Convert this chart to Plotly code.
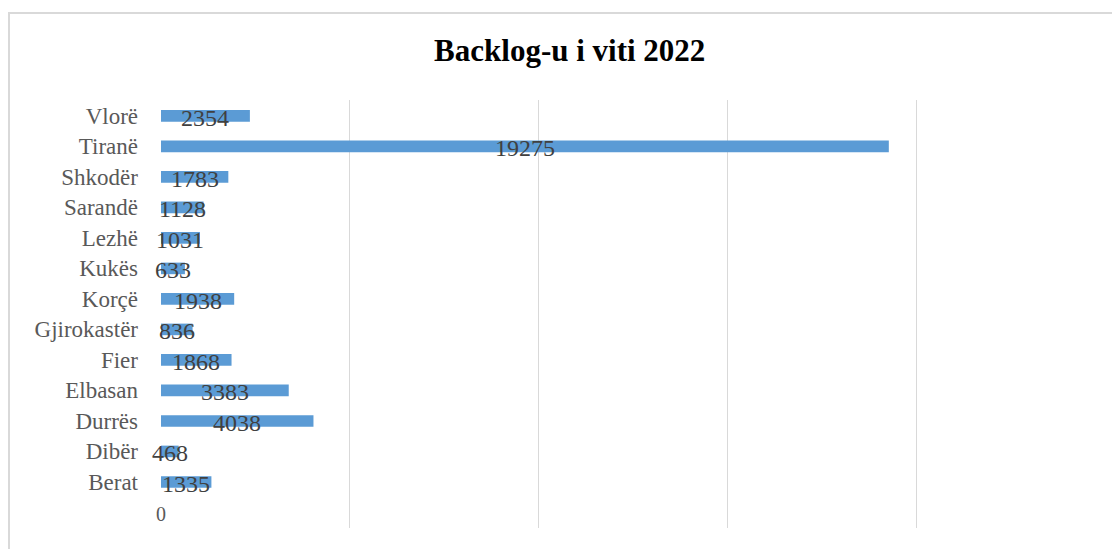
import plotly.graph_objects as go

# Backlog per district, bottom to top as in the chart
districts = ['Berat', 'Dibër', 'Durrës', 'Elbasan', 'Fier', 'Gjirokastër', 'Korçë',
             'Kukës', 'Lezhë', 'Sarandë', 'Shkodër', 'Tiranë', 'Vlorë']
backlog = [1335, 468, 4038, 3383, 1868, 836, 1938, 633, 1031, 1128, 1783, 19275, 2354]

x_ticks = [0, 5000, 10000, 15000, 20000, 25000]

serif = 'Liberation Serif, Times New Roman, serif'

fig = go.Figure(go.Bar(
    x=backlog,
    y=districts,
    orientation='h',
    marker=dict(color='#5b9bd5', line=dict(width=0)),
    width=0.38,
    hoverinfo='x+y'))

# value labels centred on each bar, a bit below the middle
for d, v in zip(districts, backlog):
    fig.add_annotation(x=v / 2, y=d, text=str(v), showarrow=False, yshift=-2,
                       font=dict(family=serif, size=24, color='#404040'))

# only the first tick is labelled, and it sits inside the plot bottom
fig.add_annotation(x=x_ticks[0], y=0, xref='x', yref='paper', text=str(x_ticks[0]),
                   showarrow=False, yanchor='middle', yshift=14,
                   font=dict(family=serif, size=20, color='#595959'))

# outer chart border
fig.add_shape(type='rect', xref='paper', yref='paper',
              x0=-0.161, x1=1.05, y0=-0.1, y1=1.203,
              line=dict(color='#d9d9d9', width=2), layer='below')

fig.update_layout(
    width=1120, height=549,
    margin=dict(l=153, r=23, t=92, b=29),
    paper_bgcolor='white', plot_bgcolor='white',
    title=dict(text='<b>Backlog-u i viti 2022</b>', x=0.433, xanchor='center',
               xref='paper', y=0.923, yanchor='middle',
               font=dict(family=serif, size=31, color='black')),
    showlegend=False,
)
fig.update_xaxes(range=[0, 25000], tickvals=x_ticks, showticklabels=False,
                 showgrid=True, gridcolor='#d9d9d9', gridwidth=1,
                 zeroline=False, showline=False, ticks='', automargin=False)
fig.update_yaxes(range=[-1.51, 12.52], categoryorder='array', categoryarray=districts,
                 showgrid=False, zeroline=False, showline=False, ticks='',
                 ticklabelstandoff=22, automargin=False,
                 tickfont=dict(family=serif, size=23, color='#595959'))

fig.write_html("out.html")
